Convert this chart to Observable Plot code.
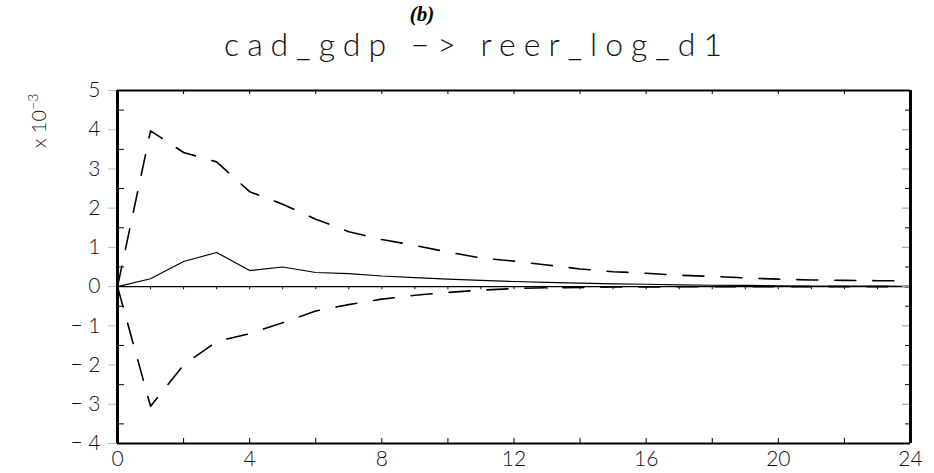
<!DOCTYPE html>
<html><head><meta charset="utf-8">
<script src="https://cdn.jsdelivr.net/npm/d3@7"></script>
<script src="https://cdn.jsdelivr.net/npm/@observablehq/plot@0.6"></script>
<style>
body{margin:0;background:#fff;}
#wrap{position:relative;width:934px;height:473px;overflow:hidden;background:#fff;}
#tag{position:absolute;left:0;width:934px;top:2px;text-align:center;font-family:"Liberation Serif";font-weight:bold;font-style:italic;font-size:21px;color:#000;padding-right:90px;box-sizing:border-box;z-index:2;}
#title{position:absolute;left:0;width:934px;top:24px;text-align:center;font-family:"Lato";font-weight:300;font-size:32px;letter-spacing:8px;color:#111;padding-left:20px;box-sizing:border-box;z-index:2;}
#ylab{position:absolute;left:-8px;top:108px;width:90px;text-align:center;transform:rotate(-90deg);font-family:"Lato";font-weight:300;font-size:20px;color:#111;z-index:2;white-space:nowrap;}
#ylab sup{font-size:14px;}
#chart{position:absolute;left:0;top:70px;z-index:1;}
</style></head><body>
<div id="wrap">
<div id="chart"></div>
<div id="tag">(b)</div>
<div id="title">cad_gdp −&gt; reer_log_d1</div>
<div id="ylab">x 10<sup>−3</sup></div>
</div>
<script>
// horizon (periods)
const horizon = [0,1,2,3,4,5,6,7,8,9,10,11,12,13,14,15,16,17,18,19,20,21,22,23,24];
// impulse response (x 10^-3)
const response = [0,0.20,0.64,0.87,0.41,0.50,0.36,0.33,0.27,0.23,0.19,0.16,0.13,0.11,0.09,0.07,0.06,0.045,0.035,0.03,0.02,0.015,0.01,0.01,0.005];
// upper confidence band
const upper = [0,3.97,3.42,3.18,2.42,2.10,1.72,1.40,1.20,1.05,0.88,0.73,0.65,0.55,0.45,0.38,0.34,0.29,0.26,0.22,0.19,0.17,0.16,0.15,0.15];
// lower confidence band
const lower = [0,-3.05,-2.00,-1.40,-1.20,-0.92,-0.62,-0.46,-0.32,-0.22,-0.15,-0.09,-0.05,-0.03,-0.02,-0.01,-0.01,-0.005,0,0,0,0,0,0,0];
// tick labels
const yLabels = [-4,-3,-2,-1,0,1,2,3,4,5];
const yHalf = [-3.5,-2.5,-1.5,-0.5,0.5,1.5,2.5,3.5,4.5];
const xLabels = [0,4,8,12,16,20,24];
const xTicks = [2,4,6,8,10,12,14,16,18,20,22];

const rows = horizon.map((h,i)=>({h, response:response[i], upper:upper[i], lower:lower[i]}));

const W = 934, H = 403, mL = 117, mR = 24, mT = 20, mB = 30;
const fw = W - mL - mR, fh = H - mT - mB;
const fmt = d => d < 0 ? "\u2212 " + (-d) : String(d);

const chart = Plot.plot({
  width: W, height: H,
  marginLeft: mL, marginRight: mR, marginTop: mT, marginBottom: mB,
  x: {domain: [0, 24], label: null},
  y: {domain: [-4, 5], label: null},
  style: {fontFamily: "Lato", fontWeight: 300, fontSize: "21px", color: "#111", background: "white"},
  marks: [
    Plot.ruleY([0], {stroke: "black", strokeWidth: 1.4}),
    Plot.ruleX(horizon, {y1: 0, y2: -0.08, stroke: "black", strokeWidth: 1}),
    Plot.line(rows, {x: "h", y: "response", stroke: "black", strokeWidth: 1.2}),
    Plot.line(rows, {x: "h", y: "upper", stroke: "black", strokeWidth: 1.6, strokeDasharray: "21,17"}),
    Plot.line(rows, {x: "h", y: "lower", stroke: "black", strokeWidth: 1.6, strokeDasharray: "21,17"}),
    // inner ticks
    Plot.tickY(yHalf, {y: d => d, insetRight: fw - 7, stroke: "black", strokeWidth: 1}),
    Plot.tickY(yHalf, {y: d => d, insetLeft: fw - 5, stroke: "black", strokeWidth: 1}),
    Plot.tickY(yLabels, {y: d => d, insetLeft: fw - 8, stroke: "#aaa", strokeWidth: 1.2}),
    Plot.tickX(xTicks, {x: d => d, insetTop: fh - 5, stroke: "black", strokeWidth: 1}),
    Plot.tickX(xTicks, {x: d => d, insetBottom: fh - 4, stroke: "black", strokeWidth: 1}),
    // axes labels
    Plot.axisY(yLabels, {anchor: "left", tickSize: 9, tickPadding: 8, stroke: "#bbb", tickFormat: fmt, fill: "#111", fontSize: 21, label: null}),
    Plot.axisX(xLabels, {anchor: "bottom", tickSize: 0, tickPadding: 8, tickFormat: d => String(d), fill: "#111", fontSize: 21, label: null, style: "letter-spacing:4px"}),
    // frame
    Plot.ruleX([0, 24], {stroke: "black", strokeWidth: 3}),
    Plot.ruleY([-4, 5], {stroke: "black", strokeWidth: 2})
  ]
});
document.getElementById("chart").appendChild(chart);
</script>
</body></html>
